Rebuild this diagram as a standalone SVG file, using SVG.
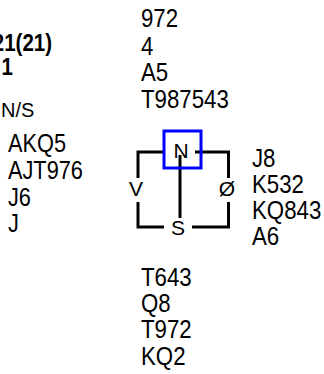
<svg xmlns="http://www.w3.org/2000/svg" width="324" height="374" viewBox="0 0 324 374">
<style>
text{font-family:"Liberation Sans","Arial",sans-serif;fill:#000}
.h{font-size:25px}
.t{font-size:23px;font-weight:bold}
.c{font-size:21px;text-anchor:middle}
.ln{stroke:#000;stroke-width:3;fill:none}
</style>
<rect width="324" height="374" fill="#fff"/>
<g id="title">
<text class="t" transform="translate(52 0) scale(.89 1)" x="0" y="51" text-anchor="end">21(21)</text>
<text class="t" transform="translate(13 0) scale(.89 1)" x="0" y="75" text-anchor="end">1</text>
<text x="1" y="117" style="font-size:20px">N/S</text>
</g>
<g id="north" transform="translate(141 0) scale(.89 1)">
<text class="h" x="0" y="27">972</text>
<text class="h" x="0" y="55">4</text>
<text class="h" x="0" y="81">A5</text>
<text class="h" x="0" y="108">T987543</text>
</g>
<g id="west" transform="translate(8 0) scale(.87 1)">
<text class="h" x="0" y="152">AKQ5</text>
<text class="h" x="0" y="179">AJT976</text>
<text class="h" x="0" y="206">J6</text>
<text class="h" x="0" y="232">J</text>
</g>
<g id="east" transform="translate(252 0) scale(.89 1)">
<text class="h" x="0" y="167">J8</text>
<text class="h" x="0" y="193">K532</text>
<text class="h" x="0" y="219">KQ843</text>
<text class="h" x="0" y="245">A6</text>
</g>
<g id="south" transform="translate(141 0) scale(.89 1)">
<text class="h" x="0" y="286">T643</text>
<text class="h" x="0" y="312">Q8</text>
<text class="h" x="0" y="338">T972</text>
<text class="h" x="0" y="365">KQ2</text>
</g>
<g id="connectors">
<path class="ln" d="M138 152H164M195 152H230M138 150.5V178M138 202V228.5M136.5 227H164M192 227H230M228.5 150.5V178M228.5 202V228.5M180 155V218"/>
</g>
<g id="compass">
<rect x="164" y="131" width="37" height="37" fill="none" stroke="#0000ff" stroke-width="3"/>
<text class="c" x="181" y="158">N</text>
<text class="c" x="178" y="235">S</text>
<text class="c" x="136" y="196">V</text>
<text class="c" x="227" y="196">Ø</text>
</g>
</svg>
